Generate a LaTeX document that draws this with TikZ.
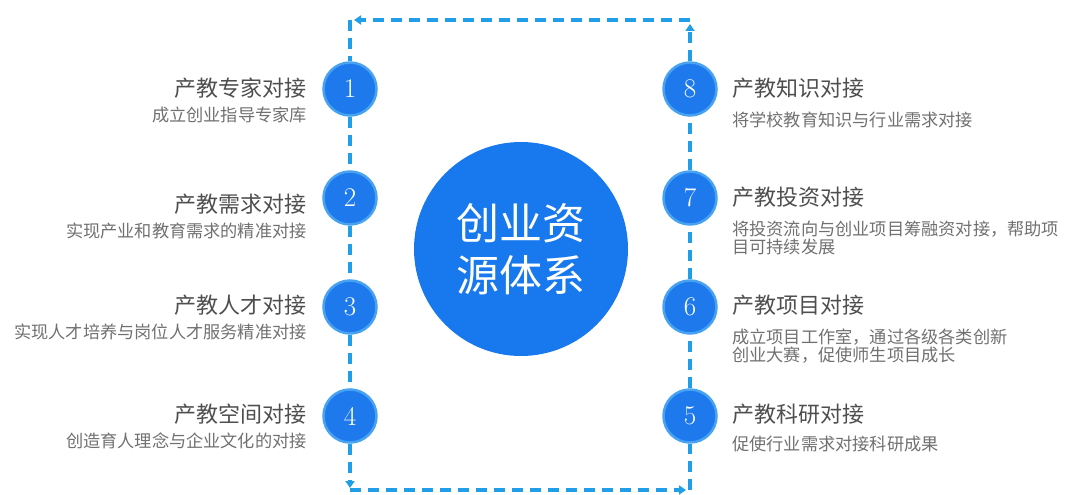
\documentclass[tikz,border=0pt]{standalone}
\usepackage{fontspec}
\newfontfamily\cjk{Noto Sans CJK SC}
\usetikzlibrary{arrows.meta,positioning}

\definecolor{flowblue}{RGB}{32,158,232}
\definecolor{dotblue}{RGB}{30,122,236}
\definecolor{dotring}{RGB}{72,162,242}
\definecolor{hubblue}{RGB}{24,120,238}
\definecolor{headgray}{RGB}{78,78,78}
\definecolor{subgray}{RGB}{112,112,112}

\begin{document}
\begin{tikzpicture}[x=1pt,y=-1pt,
    numdot/.style={circle, minimum size=53pt, inner sep=0pt, fill=dotblue,
      draw=dotring, line width=2.5pt, text=white, font=\fontsize{27}{27}\selectfont},
    hub/.style={circle, minimum size=214pt, inner sep=0pt, fill=hubblue,
      text=white, align=center, font=\cjk\fontsize{43}{52}\selectfont},
    headtxt/.style={inner sep=0pt, text=headgray, font=\cjk\fontsize{22}{24}\selectfont},
    subtxt/.style={inner sep=0pt, text=subgray, align=left,
      font=\cjk\fontsize{17.2}{18}\selectfont},
    flow/.style={flowblue, line width=3.2pt, dash pattern=on 11pt off 7pt},
    tip/.style={-{Triangle[length=7pt,width=9pt]}}]
    \useasboundingbox (0,0) rectangle (1066,495);

    % corners of the loop
    \coordinate (tl) at (350,20);
    \coordinate (tr) at (690,20);
    \coordinate (bl) at (350,490);
    \coordinate (br) at (690,490);

    % centre
    \node[hub] (hub) at (521,249) {创业资\\源体系};

    % left column
    \node[numdot] (c1) at (350,89) {1};
    \node[numdot] (c2) at (350,198) {2};
    \node[numdot] (c3) at (350,307) {3};
    \node[numdot] (c4) at (350,416) {4};

    % right column
    \node[numdot] (c8) at (690,89) {8};
    \node[numdot] (c7) at (690,198) {7};
    \node[numdot] (c6) at (690,307) {6};
    \node[numdot] (c5) at (690,416) {5};

    % dashed loop
    \draw[flow,tip] (c8) -- ([yshift=-4pt]tr);
    \draw[flow,tip] (tr) -- ([xshift=4pt]tl);
    \draw[flow] (tl) -- (c1);
    \draw[flow] (c1) -- (c2);
    \draw[flow] (c2) -- (c3);
    \draw[flow] (c3) -- (c4);
    \draw[flow,tip] (c4) -- ([yshift=2pt]bl);
    \draw[flow,tip] (bl) -- ([xshift=-4pt]br);
    \draw[flow] (br) -- (c5);
    \draw[flow] (c5) -- (c6);
    \draw[flow] (c6) -- (c7);
    \draw[flow] (c7) -- (c8);

    % left labels
    \node[headtxt, anchor=east] (h1) at (307,88) {产教专家对接};
    \node[subtxt, anchor=north east] (s1) at ([yshift=-8pt]h1.south east) {成立创业指导专家库};
    \node[headtxt, anchor=east] (h2) at (307,204) {产教需求对接};
    \node[subtxt, anchor=north east] (s2) at ([yshift=-8pt]h2.south east) {实现产业和教育需求的精准对接};
    \node[headtxt, anchor=east] (h3) at (307,305) {产教人才对接};
    \node[subtxt, anchor=north east] (s3) at ([yshift=-8pt]h3.south east) {实现人才培养与岗位人才服务精准对接};
    \node[headtxt, anchor=east] (h4) at (307,414) {产教空间对接};
    \node[subtxt, anchor=north east] (s4) at ([yshift=-8pt]h4.south east) {创造育人理念与企业文化的对接};

    % right labels
    \node[headtxt, anchor=west] (h8) at (732,88) {产教知识对接};
    \node[subtxt, anchor=north west] (s8) at ([yshift=-13pt]h8.south west) {将学校教育知识与行业需求对接};
    \node[headtxt, anchor=west] (h7) at (732,197) {产教投资对接};
    \node[subtxt, anchor=north west] (s7) at ([yshift=-13pt]h7.south west) {将投资流向与创业项目筹融资对接，帮助项\\目可持续发展};
    \node[headtxt, anchor=west] (h6) at (732,305) {产教项目对接};
    \node[subtxt, anchor=north west] (s6) at ([yshift=-13pt]h6.south west) {成立项目工作室，通过各级各类创新\\创业大赛，促使师生项目成长};
    \node[headtxt, anchor=west] (h5) at (732,414) {产教科研对接};
    \node[subtxt, anchor=north west] (s5) at ([yshift=-11pt]h5.south west) {促使行业需求对接科研成果};
  \end{tikzpicture}
\end{document}
